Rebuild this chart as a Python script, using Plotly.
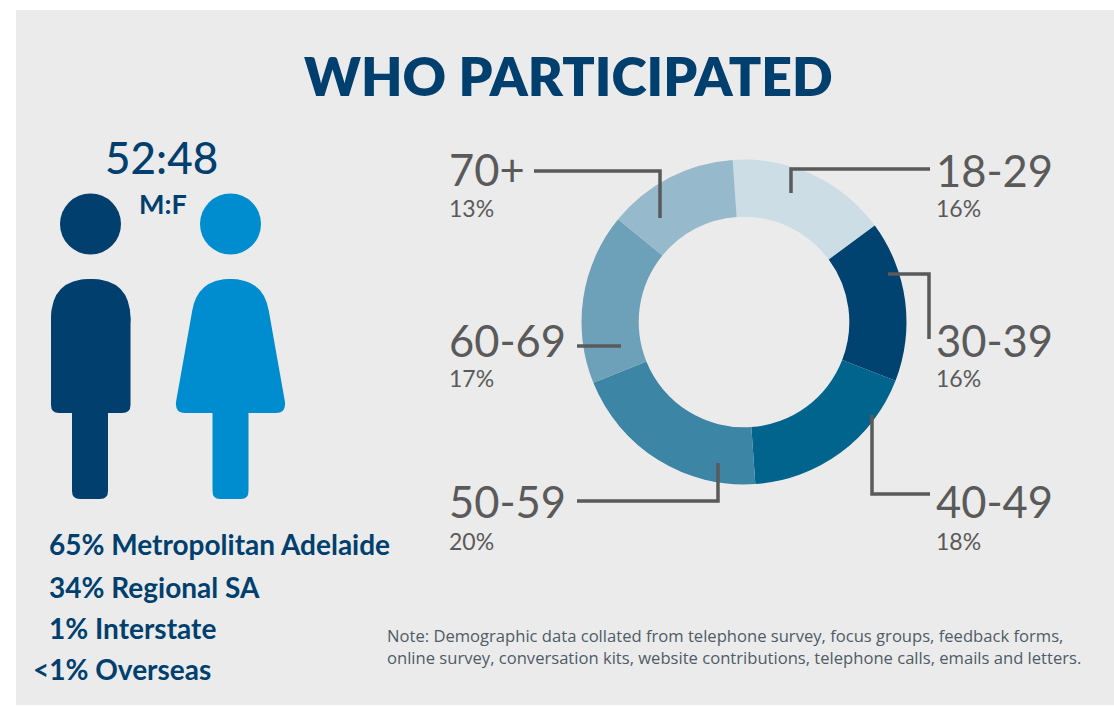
import plotly.graph_objects as go

age_groups = ["18-29", "30-39", "40-49", "50-59", "60-69", "70+"]
age_share = [16, 16, 18, 20, 17, 13]
age_colors = ["#CCDDE5", "#004270", "#00648C", "#3D85A5", "#6DA0B9", "#96B9CB"]
location_lines = ["65% Metropolitan Adelaide", "34% Regional SA", "1% Interstate", "<1% Overseas"]
ratio_text = "52:48"
ratio_label = "M:F"
title_text = "WHO PARTICIPATED"
note_lines = ["Note: Demographic data collated from telephone survey, focus groups, feedback forms,",
              "online survey, conversation kits, website contributions, telephone calls, emails and letters."]

W, H = 1114, 707
NAVY = "#003F6E"
BLUE = "#008DD0"
GREY = "#5A5A5A"
FONT = "Lato"

def fx(x): return x / W
def fy(y): return 1 - y / H
def pt(x, y): return f"{fx(x):.5f},{fy(y):.5f}"

def path(points, close=True):
    cmds = []
    for p in points:
        if p[0] == "M" or p[0] == "L":
            cmds.append(f"{p[0]}{pt(p[1], p[2])}")
        else:
            cmds.append(f"Q{pt(p[1], p[2])} {pt(p[3], p[4])}")
    return " ".join(cmds) + (" Z" if close else "")

shapes = [dict(type="rect", xref="paper", yref="paper", x0=fx(16), x1=1, y0=fy(705), y1=fy(10),
               fillcolor="#EBEBEB", line_width=0, layer="below")]

def head(cx, color):
    shapes.append(dict(type="circle", xref="paper", yref="paper", x0=fx(cx-30.5), x1=fx(cx+30.5),
                       y0=fy(254.5), y1=fy(193.5), fillcolor=color, line_width=0))

head(90.5, NAVY)
head(230.5, BLUE)

male = [("M",51,319),("Q",51,279,90.5,279),("Q",130.5,279,130.5,319),("L",130.5,405),("Q",130.5,413,122,413),
        ("L",108,413),("L",108,491),("Q",108,499,100,499),("L",80,499),("Q",72,499,72,491),("L",72,413),
        ("L",59,413),("Q",51,413,51,405)]
female = [("M",192,312),("Q",197,279,230.5,279),("Q",264,279,269,312),("L",285,402),("Q",286,413,276,413),
          ("L",248.5,413),("L",248.5,491),("Q",248.5,499,241,499),("L",220,499),("Q",212.5,499,212.5,491),("L",212.5,413),
          ("L",185,413),("Q",175,413,176,402)]
shapes.append(dict(type="path", xref="paper", yref="paper", path=path(male), fillcolor=NAVY, line_width=0))
shapes.append(dict(type="path", xref="paper", yref="paper", path=path(female), fillcolor=BLUE, line_width=0))
shapes.append(dict(type="circle", xref="paper", yref="paper", x0=fx(51), x1=fx(130.5), y0=fy(359), y1=fy(279), fillcolor=NAVY, line_width=0))
shapes.append(dict(type="circle", xref="paper", yref="paper", x0=fx(192), x1=fx(269), y0=fy(356), y1=fy(279), fillcolor=BLUE, line_width=0))

leaders = [[(534,171),(660,171),(660,218)],
           [(930,169),(791,169),(791,193)],
           [(888,274),(929,274),(929,339)],
           [(872,415),(872,494),(930,494)],
           [(577,501),(718,501),(718,463)],
           [(577,346),(621,346)]]
for pts in leaders:
    d = path([("M",)+pts[0]] + [("L",)+p for p in pts[1:]], close=False)
    shapes.append(dict(type="path", xref="paper", yref="paper", path=d, line=dict(color=GREY, width=3.5), layer="above"))

fig = go.Figure(go.Pie(labels=age_groups, values=age_share, sort=False, direction="clockwise", rotation=-4,
                       hole=0.648, textinfo="none", showlegend=False,
                       marker=dict(colors=age_colors, line=dict(width=0)),
                       domain=dict(x=[fx(581), fx(907)], y=[fy(484.5), fy(159.5)])))

def text(x, y, s, size, color, weight=400, anchor="left", family=FONT):
    return dict(xref="paper", yref="paper", x=fx(x), y=fy(y), text=s, showarrow=False, xanchor=anchor, yanchor="middle",
                align="left", font=dict(family=family, size=size, color=color, weight=weight), borderpad=0, borderwidth=0)

ann = [text(568, 75, title_text, 53.5, NAVY, 800, "center"),
       text(161.5, 157, ratio_text, 44, NAVY, 500, "center"),
       text(162.5, 204, ratio_label, 27, NAVY, 700, "center")]
label_pos = [(936, 170), (936, 340), (936, 501), (449, 501), (449, 340), (449, 169)]
pct_pos = [(936, 208), (936, 378), (936, 541), (449, 541), (449, 378), (449, 208)]
for g, v, lp, pp in zip(age_groups, age_share, label_pos, pct_pos):
    ann.append(text(lp[0], lp[1], g, 43.5, GREY))
    ann.append(text(pp[0], pp[1], f"{v}%", 23, GREY))
for (x, y), s in zip([(49,544),(49,587),(49,628),(33,669)], location_lines):
    ann.append(text(x, y, s, 28, NAVY, 700))
ann.append(text(387, 646, "<br>".join(note_lines), 16.6, "#4F5B66", family="Open Sans"))

fig.update_layout(width=W, height=H, margin=dict(l=0, r=0, t=0, b=0), paper_bgcolor="white", plot_bgcolor="white",
                  shapes=shapes, annotations=ann)
fig.write_html("out.html", config=dict(displayModeBar=False),
               post_script="document.body.style.margin='0';document.body.style.overflow='hidden';window.dispatchEvent(new Event('resize'));")
